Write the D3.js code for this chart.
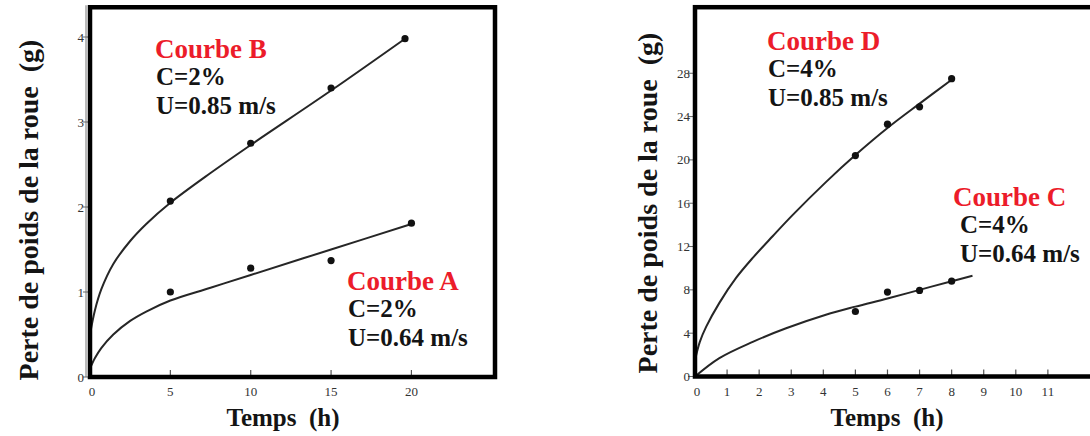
<!DOCTYPE html>
<html>
<head>
<meta charset="utf-8">
<script src="https://cdn.jsdelivr.net/npm/d3@7"></script>
<style>
  html, body { margin: 0; padding: 0; background: #fff; }
  svg { display: block; }
</style>
</head>
<body>
<svg id="chart" width="1090" height="436" font-family="'Liberation Serif', 'Times New Roman', 'DejaVu Serif', serif"></svg>
<script>
// Wheel mass loss vs. time — two panels (C=2% and C=4%)

// Left panel: C = 2 %
const leftXTicks = [0, 5, 10, 15, 20];
const leftYTicks = [0, 1, 2, 3, 4];
// measured points
const pointsA = [[5, 1.0], [10, 1.28], [15, 1.37], [20, 1.81]];
const pointsB = [[5, 2.07], [10, 2.75], [15, 3.40], [19.6, 3.98]];
// fitted trend lines
const fitA = [[0, 0.1], [0.3, 0.22], [0.7, 0.34], [1.45, 0.5], [2.5, 0.66], [3.5, 0.77],
              [5, 0.9], [7.5, 1.05], [10, 1.2], [15, 1.5], [20, 1.8]];
const fitB = [[0, 0.5], [0.3, 0.78], [0.7, 1.03], [1.45, 1.33], [2.5, 1.6], [3.5, 1.8],
              [5, 2.05], [7.5, 2.4], [10, 2.73], [15, 3.37], [19.6, 3.98]];

// Right panel: C = 4 %
const rightXTicks = [0, 1, 2, 3, 4, 5, 6, 7, 8, 9, 10, 11];
const rightYTicks = [0, 4, 8, 12, 16, 20, 24, 28];
const pointsC = [[5, 6.0], [6, 7.8], [7, 7.95], [8, 8.8]];
const pointsD = [[5, 20.4], [6, 23.3], [7, 24.9], [8, 27.5]];
const fitC = [[0, 0], [0.76, 1.7], [1.8, 3.2], [2.84, 4.45], [4.08, 5.7], [5, 6.45],
              [6, 7.2], [7, 8.0], [8, 8.8], [8.65, 9.3]];
const fitD = [[0, 1.5], [0.15, 3.2], [0.35, 4.6], [0.76, 6.8], [1.28, 9.1], [1.8, 10.95],
              [2.42, 12.95], [3.04, 14.9], [4.08, 17.95], [5, 20.45], [6, 22.95], [7, 25.2], [8, 27.4]];

// annotation texts
const labelsLeft = [
  { title: "Courbe B", lines: ["C=2%", "U=0.85 m/s"] },
  { title: "Courbe A", lines: ["C=2%", "U=0.64 m/s"] }
];
const labelsRight = [
  { title: "Courbe D", lines: ["C=4%", "U=0.85 m/s"] },
  { title: "Courbe C", lines: ["C=4%", "U=0.64 m/s"] }
];
const xTitle = "Temps  (h)";
const yTitle = "Perte de poids de la roue  (g)";

const svg = d3.select("#chart");
const RED = "#ec1c2a";
const INK = "#141414";
const SERIF = "'Liberation Serif', 'Times New Roman', 'DejaVu Serif', serif";

function drawPanel(cfg) {
  const g = svg.append("g").attr("font-family", SERIF);
  const x = cfg.x, y = cfg.y;
  const [x0, x1] = x.range();
  const [y0, y1] = y.range();

  // thin left axis with outward ticks
  if (cfg.thinAxis) {
    g.append("line")
      .attr("x1", x0 - 4).attr("x2", x0 - 4)
      .attr("y1", y1 - 2).attr("y2", y0)
      .attr("stroke", "#777").attr("stroke-width", 1);
  }
  g.selectAll(".ytick").data(cfg.yTicks).join("line")
    .attr("x1", x0 - 7).attr("x2", x0)
    .attr("y1", d => y(d)).attr("y2", d => y(d))
    .attr("stroke", "#666").attr("stroke-width", 1);

  // inner x ticks
  g.selectAll(".xtick").data(cfg.xTicks.filter(d => d > 0)).join("line")
    .attr("x1", d => x(d)).attr("x2", d => x(d))
    .attr("y1", y0 - 7).attr("y2", y0)
    .attr("stroke", "#555").attr("stroke-width", 1.2);

  // tick labels
  g.selectAll(".ylab").data(cfg.yTicks).join("text")
    .attr("font-family", SERIF)
    .attr("x", cfg.yLabelX).attr("y", d => y(d))
    .attr("dy", "0.35em")
    .attr("text-anchor", "end")
    .attr("font-size", 13).attr("fill", "#333")
    .text(d => d);
  g.selectAll(".xlab").data(cfg.xTicks).join("text")
    .attr("font-family", SERIF)
    .attr("x", d => d === 0 ? x(d) + 2 : x(d)).attr("y", y0 + 19)
    .attr("text-anchor", "middle")
    .attr("font-size", 13).attr("fill", "#333")
    .text(d => d);

  // trend lines
  const line = d3.line().x(d => x(d[0])).y(d => y(d[1])).curve(d3.curveCatmullRom.alpha(0.5));
  cfg.fits.forEach(f => {
    g.append("path").attr("d", line(f))
      .attr("fill", "none").attr("stroke", "#262626").attr("stroke-width", 2);
  });

  // measured points
  cfg.points.forEach(p => {
    g.selectAll(null).data(p).join("circle")
      .attr("cx", d => x(d[0])).attr("cy", d => y(d[1]))
      .attr("r", 3.6).attr("fill", "#111");
  });

  // thick frame
  g.append("rect")
    .attr("x", x0).attr("y", y1)
    .attr("width", x1 - x0).attr("height", y0 - y1)
    .attr("fill", "none").attr("stroke", "#000").attr("stroke-width", 4.5);

  // annotations
  cfg.labels.forEach((lab, i) => {
    const pos = cfg.labelPos[i];
    g.append("text")
      .attr("font-family", SERIF)
      .attr("x", pos[0]).attr("y", pos[1])
      .attr("font-size", 27).attr("font-weight", "bold").attr("fill", RED)
      .text(lab.title);
    lab.lines.forEach((t, j) => {
      g.append("text")
        .attr("font-family", SERIF)
        .attr("x", pos[0] + pos[2]).attr("y", pos[1] + 27 + j * 28.5)
        .attr("font-size", 25).attr("font-weight", "bold").attr("fill", INK)
        .text(t);
    });
  });

  // axis titles
  g.append("text")
    .attr("font-family", SERIF)
    .attr("x", cfg.xTitleX).attr("y", 426)
    .attr("text-anchor", "middle")
    .attr("font-size", 25).attr("font-weight", "bold").attr("fill", INK)
    .style("white-space", "pre")
    .text(xTitle);
  g.append("text")
    .attr("font-family", SERIF)
    .attr("transform", `translate(${cfg.yTitleX},${cfg.yTitleY}) rotate(-90)`)
    .attr("text-anchor", "middle")
    .attr("font-size", 28).attr("font-weight", "bold").attr("fill", INK)
    .style("white-space", "pre")
    .text(yTitle);
}

drawPanel({
  x: d3.scaleLinear().domain([0, 25.2]).range([90, 495]),
  y: d3.scaleLinear().domain([0, 4.35]).range([377, 7.25]),
  xTicks: leftXTicks, yTicks: leftYTicks,
  points: [pointsA, pointsB], fits: [fitA, fitB],
  labels: labelsLeft,
  labelPos: [[155, 58, 1], [347, 290, 1]],
  yLabelX: 84, thinAxis: true,
  xTitleX: 283, yTitleX: 38, yTitleY: 210
});

drawPanel({
  x: d3.scaleLinear().domain([0, 12.5]).range([695, 1096]),
  y: d3.scaleLinear().domain([0, 34.1]).range([376.5, 7.2]),
  xTicks: rightXTicks, yTicks: rightYTicks,
  points: [pointsC, pointsD], fits: [fitC, fitD],
  labels: labelsRight,
  labelPos: [[767, 50, 1], [953, 206, 7]],
  yLabelX: 690, thinAxis: false,
  xTitleX: 887, yTitleX: 657, yTitleY: 203
});
</script>
</body>
</html>
